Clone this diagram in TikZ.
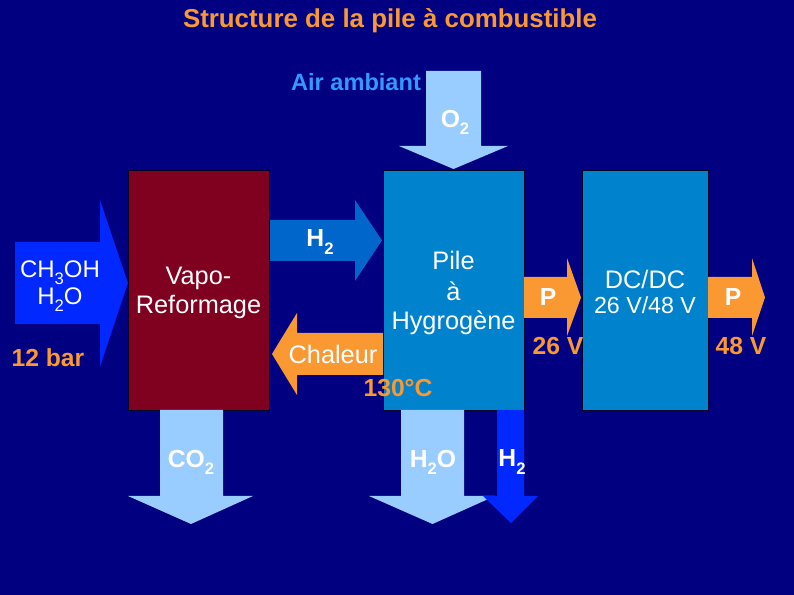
\documentclass[tikz,border=0pt]{standalone}
\usepackage{fontspec}
\setmainfont{Liberation Sans}
\definecolor{navy}{HTML}{000080}
\definecolor{orng}{HTML}{FA9832}
\definecolor{lblue}{HTML}{99CCFF}
\definecolor{airtxt}{HTML}{3399FF}
\definecolor{vapo}{HTML}{800020}
\definecolor{pile}{HTML}{0082CC}
\definecolor{htwo}{HTML}{0066CC}
\definecolor{bright}{HTML}{0028FF}
\newcommand\sbs[1]{\raisebox{-0.55ex}{\fontsize{12.5}{12.5}\selectfont #1}}
\tikzset{
  box/.style={inner sep=0pt, align=center, text=white, draw=black!70!navy, line width=0.6pt,
    font=\fontsize{19}{22}\selectfont},
  lbl/.style={inner sep=0pt, text=white, font=\fontsize{18.5}{21}\selectfont\bfseries},
  reg/.style={inner sep=0pt, text=white, align=center, font=\fontsize{19}{22}\selectfont},
  olbl/.style={inner sep=0pt, text=orng, font=\fontsize{18.5}{21}\selectfont\bfseries},
}
\begin{document}
\begin{tikzpicture}[x=0.75pt,y=-0.75pt]
\fill[navy] (0,0) rectangle (794,595);
\useasboundingbox (0,0) rectangle (794,595);

\node[inner sep=0pt, text=orng, font=\fontsize{19.4}{22}\selectfont\bfseries] (title) at (390,21) {Structure de la pile à combustible};
\node[inner sep=0pt, text=airtxt, font=\fontsize{17.7}{21}\selectfont\bfseries] (air) at (356,82) {Air ambiant};

% O2 arrow
\fill[lblue] (426,71) -- (481,71) -- (481,146) -- (508,146) -- (453.5,169) -- (399,146) -- (426,146) -- cycle;
\node[lbl] (o2) at (455,122) {O\sbs{2}};

% boxes
\node[box, fill=vapo, minimum width=105.75pt, minimum height=180pt] (vapo) at (198.5,290) {};
\node[reg] (vapotxt) at (198.5,293) {Vapo-\\Reformage};
\node[box, fill=pile, minimum width=105.75pt, minimum height=180pt] (pilebox) at (453.5,290) {};
\node[reg] (piletxt) at (453.5,293) {Pile\\[1pt]à\\Hygrogène};
\node[box, fill=pile, minimum width=94.5pt, minimum height=180pt] (dcdc) at (645,290) {};
\node[reg] (dc1) at (645,279) {DC/DC};
\node[reg, font=\fontsize{17.4}{20}\selectfont] (dc2) at (645,305) {26 V/48 V};

% CH3OH arrow
\fill[bright] (15,242) -- (100,242) -- (100,200) -- (128,283) -- (100,367) -- (100,324) -- (15,324) -- cycle;
\node[reg, font=\fontsize{18}{20}\selectfont] (feed) at (60,286) {CH\sbs{3}OH\\H\sbs{2}O};
\node[olbl] (bar) at (48,358) {12 bar};

% H2 arrow
\fill[htwo] (270,220) -- (355,220) -- (355,200) -- (382,240.5) -- (355,281) -- (355,261) -- (270,261) -- cycle;
\node[lbl] (h2a) at (320,242) {H\sbs{2}};

% Chaleur arrow
\fill[orng] (383,333) -- (297,333) -- (297,313) -- (272,354) -- (297,395) -- (297,375) -- (383,375) -- cycle;
\node[reg] (chal) at (333,354) {Chaleur};
\node[olbl] (temp) at (398,388) {130°C};

% P arrows
\fill[orng] (524,277) -- (567,277) -- (567,258) -- (581,297.5) -- (567,336) -- (567,318) -- (524,318) -- cycle;
\node[lbl] (p1) at (548,297) {P};
\node[olbl] (v26) at (558,346) {26 V};
\fill[orng] (708,277) -- (752,277) -- (752,258) -- (765,297.5) -- (752,336) -- (752,318) -- (708,318) -- cycle;
\node[lbl] (p2) at (733,297) {P};
\node[olbl] (v48) at (741,346) {48 V};

% bottom arrows
\fill[lblue] (160,410) -- (223,410) -- (223,496) -- (253,496) -- (191,524) -- (128,496) -- (160,496) -- cycle;
\node[lbl] (co2) at (191,462) {CO\sbs{2}};
\fill[lblue] (401,410) -- (464,410) -- (464,496) -- (495,496) -- (432.5,524) -- (369,496) -- (401,496) -- cycle;
\node[lbl] (h2o) at (433,462) {H\sbs{2}O};
\fill[bright] (497,410) -- (524,410) -- (524,496) -- (538,496) -- (511,523) -- (483,496) -- (497,496) -- cycle;
\node[lbl] (h2b) at (512,462) {H\sbs{2}};
\end{tikzpicture}
\end{document}
